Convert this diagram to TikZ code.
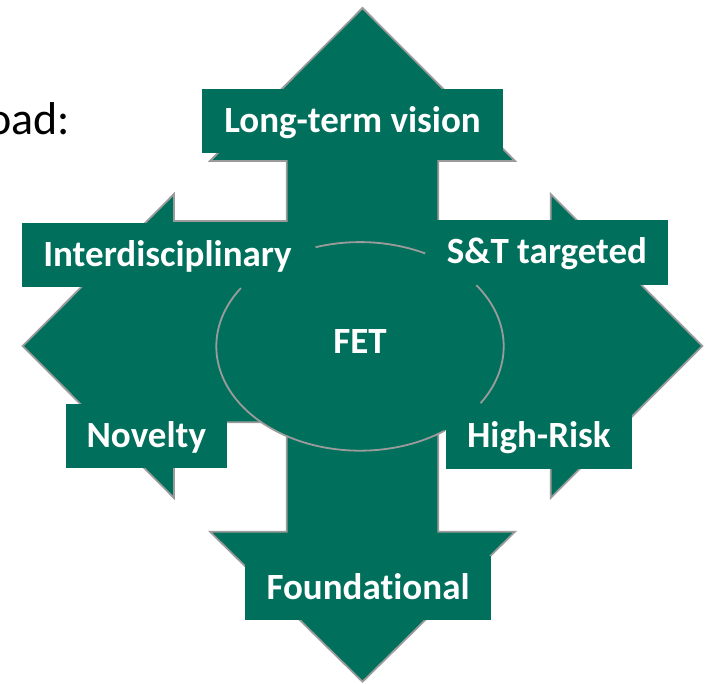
\documentclass[tikz,border=0pt]{standalone}
\usepackage{fontspec}
\setmainfont[Ligatures={NoCommon}]{Carlito}
\usetikzlibrary{shapes.geometric}
\definecolor{fetgreen}{RGB}{0,112,92}
\definecolor{edgegray}{RGB}{155,155,155}
\begin{document}
\begin{tikzpicture}[x=1pt,y=1pt,
  lbl/.style={fill=fetgreen, text=white, font=\fontsize{37}{44}\selectfont\bfseries,
    inner sep=0pt, text height=23pt, text depth=0pt},
  outline/.style={draw=edgegray, line width=1.8pt, line join=miter},
  arcline/.style={draw=edgegray, line width=1.8pt}]
\useasboundingbox (0,0) rectangle (708,683);
\fill[white] (0,0) rectangle (708,683);
% partial title text
\node[anchor=base west, inner sep=0pt, font=\fontsize{46}{55}\selectfont] (title) at (-13,548) {oad:};
% union of the two double arrows
\draw[outline, fill=fetgreen] (362.5,675) -- (515,522) -- (438.3,522) -- (438.3,462)
  -- (550.7,462) -- (550.7,489) -- (702.3,337) -- (550.7,185) -- (550.7,260.7)
  -- (438.3,260.7) -- (438.3,151.3) -- (515,151.3) -- (362.5,1.3) -- (210,151.3)
  -- (286.7,151.3) -- (286.7,260.7) -- (174,260.7) -- (174,185) -- (22.7,337)
  -- (174,489) -- (174,462) -- (286.7,462) -- (286.7,522) -- (210,522) -- cycle;
% central ellipse
\node[ellipse, fill=fetgreen, minimum width=287.4pt, minimum height=208.6pt, inner sep=0pt] (fet) at (360,336.6) {};
\draw[arcline] ([shift={(63:143.7 and 104.3)}]fet.center) arc[start angle=63, end angle=108, x radius=143.7, y radius=104.3];
\draw[arcline] ([shift={(146:143.7 and 104.3)}]fet.center) arc[start angle=146, end angle=306, x radius=143.7, y radius=104.3];
\draw[arcline] ([shift={(-33:143.7 and 104.3)}]fet.center) arc[start angle=-33, end angle=36, x radius=143.7, y radius=104.3];
% labels
\node[lbl, minimum width=301.6pt, minimum height=64.3pt] (ltv) at (352.5,561.8) {Long-term vision};
\node[lbl, minimum width=291pt, minimum height=64.6pt] (inter) at (167.5,428) {Interdisciplinary};
\node[lbl, minimum width=242pt, minimum height=65pt] (st) at (547,430.5) {S\&T targeted};
\node[lbl, minimum width=160.7pt, minimum height=64pt] (nov) at (146.3,246.7) {Novelty};
\node[lbl, minimum width=186.8pt, minimum height=64.5pt] (hr) at (538.9,246.7) {High-Risk};
\node[lbl, minimum width=246pt, minimum height=64.3pt] (found) at (368,95.1) {Foundational};
\node[lbl, fill=none] (fetlbl) at (360,340.5) {FET};
\end{tikzpicture}
\end{document}
